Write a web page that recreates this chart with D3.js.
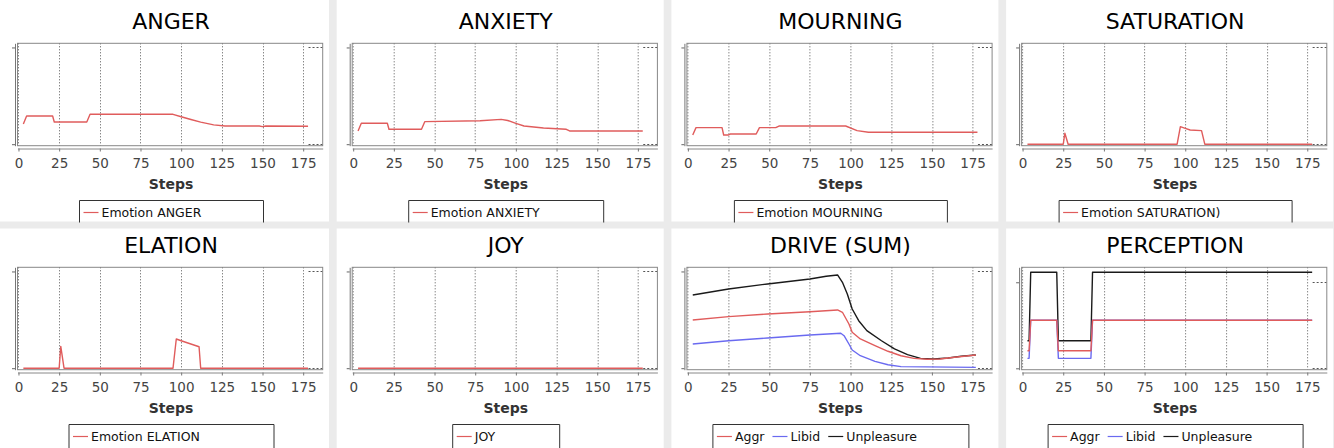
<!DOCTYPE html>
<html><head><meta charset="utf-8">
<script src="https://cdn.jsdelivr.net/npm/d3@7"></script>
<style>html,body{margin:0;padding:0;background:#ebebeb;overflow:hidden}</style>
</head><body><svg id="c" width="1334" height="448"></svg>
<script>
// ---------- DATA ----------
const stepTicks = [0, 25, 50, 75, 100, 125, 150, 175];
const yTicks = [0, 1];
const panelTitles = ["ANGER", "ANXIETY", "MOURNING", "SATURATION", "ELATION", "JOY", "DRIVE (SUM)", "PERCEPTION"];

const angerSteps  = [3, 5, 21, 22, 42, 44, 95, 100, 106, 112, 120, 127, 148, 150, 152, 178];
const angerValues = [0.209, 0.292, 0.292, 0.23, 0.23, 0.309, 0.309, 0.284, 0.255, 0.228, 0.2, 0.188, 0.188, 0.182, 0.188, 0.186];

const anxietySteps  = [3, 5, 21, 22, 42, 44, 78, 91, 95, 100, 105, 117, 131, 133, 178];
const anxietyValues = [0.137, 0.216, 0.216, 0.154, 0.154, 0.233, 0.243, 0.257, 0.245, 0.216, 0.188, 0.168, 0.154, 0.137, 0.137];

const mourningSteps  = [3, 5, 21, 22, 25, 26, 42, 44, 54, 56, 97, 104, 111, 178];
const mourningValues = [0.095, 0.171, 0.171, 0.095, 0.095, 0.105, 0.105, 0.171, 0.171, 0.188, 0.188, 0.14, 0.123, 0.123];

const saturationSteps  = [3, 25, 26, 28, 95, 97, 100, 103, 110, 112, 178];
const saturationValues = [0, 0, 0.113, 0, 0, 0.181, 0.164, 0.147, 0.14, 0, 0];

const elationSteps  = [3, 25, 26, 28, 95, 97, 100, 111, 112, 178];
const elationValues = [0, 0, 0.226, 0, 0, 0.302, 0.284, 0.222, 0, 0];

const joySteps  = [3, 178];
const joyValues = [0, 0];

const driveAggrSteps  = [3, 25, 49, 75, 92, 95, 99, 101, 106, 115, 123, 131, 139, 147, 155, 164, 177];
const driveAggrValues = [0.498, 0.533, 0.560, 0.584, 0.602, 0.578, 0.457, 0.371, 0.302, 0.233, 0.175, 0.129, 0.102, 0.092, 0.095, 0.113, 0.137];
const driveLibidSteps  = [3, 25, 49, 75, 94, 96, 99, 101, 106, 115, 123, 131, 177];
const driveLibidValues = [0.250, 0.284, 0.312, 0.343, 0.361, 0.336, 0.250, 0.188, 0.129, 0.071, 0.036, 0.016, 0.009];
const driveUnplSteps  = [3, 25, 49, 75, 85, 92, 95, 98, 101, 105, 110, 119, 127, 135, 143, 151, 160, 168, 177];
const driveUnplValues = [0.757, 0.819, 0.871, 0.922, 0.950, 0.964, 0.888, 0.767, 0.612, 0.491, 0.388, 0.284, 0.199, 0.140, 0.102, 0.095, 0.105, 0.123, 0.137];

const percSteps = [3, 4, 5, 21, 22, 42, 43, 178];
const percAggrValues  = [0.205, 0.205, 0.558, 0.558, 0.205, 0.205, 0.558, 0.558];
const percLibidValues = [0.116, 0.116, 0.558, 0.558, 0.116, 0.116, 0.558, 0.558];
const percUnplValues  = [0.321, 0.321, 1.116, 1.116, 0.321, 0.321, 1.116, 1.116];

// ---------- CONFIG ----------
const RED = "#e05c5c", BLUE = "#6a6af0", BLACK = "#1a1a1a";
const zip = (s, v) => s.map((d, i) => ({x: d, y: v[i]}));
const stdY = [-0.0155, 1.043];
const panels = [
  {series: [{name: "Emotion ANGER", color: RED, pts: zip(angerSteps, angerValues)}], yDomain: stdY, legendW: 184},
  {series: [{name: "Emotion ANXIETY", color: RED, pts: zip(anxietySteps, anxietyValues)}], yDomain: stdY, legendW: 195},
  {series: [{name: "Emotion MOURNING", color: RED, pts: zip(mourningSteps, mourningValues)}], yDomain: stdY, legendW: 213},
  {series: [{name: "Emotion SATURATION)", color: RED, pts: zip(saturationSteps, saturationValues)}], yDomain: stdY, legendW: 233},
  {series: [{name: "Emotion ELATION", color: RED, pts: zip(elationSteps, elationValues)}], yDomain: stdY, legendW: 205},
  {series: [{name: "JOY", color: RED, pts: zip(joySteps, joyValues)}], yDomain: stdY, legendW: 107},
  {series: [
    {name: "Aggr", color: RED, pts: zip(driveAggrSteps, driveAggrValues)},
    {name: "Libid", color: BLUE, pts: zip(driveLibidSteps, driveLibidValues)},
    {name: "Unpleasure", color: BLACK, pts: zip(driveUnplSteps, driveUnplValues)}], yDomain: stdY, legendW: 256},
  {series: [
    {name: "Aggr", color: RED, pts: zip(percSteps, percAggrValues)},
    {name: "Libid", color: BLUE, pts: zip(percSteps, percLibidValues)},
    {name: "Unpleasure", color: BLACK, pts: zip(percSteps, percUnplValues)}], yDomain: [-0.016, 1.174], legendW: 255}
];

// ---------- DRAW ----------
const svg = d3.select("#c");
svg.append("rect").attr("width", 1334).attr("height", 448).attr("fill", "#ebebeb");
const colW = 334.7, rowH = 224;
const FONT = "DejaVu Sans, Verdana, sans-serif";

panels.forEach((p, i) => {
  const col = i % 4, row = Math.floor(i / 4);
  const ox = col * colW, oy = row * rowH;
  const wx0 = col === 0 ? 0 : ox + 2, wx1 = Math.min(ox + 329, 1334);
  const wy0 = row === 0 ? 0 : oy + 4.5, wy1 = row === 0 ? 221.5 : 448;
  svg.append("rect").attr("x", wx0).attr("y", wy0).attr("width", wx1 - wx0).attr("height", wy1 - wy0).attr("fill", "#fff");

  const g = svg.append("g").attr("transform", `translate(${ox},${oy})`);
  const x = d3.scaleLinear().domain([-0.6, 187]).range([17.5, 322.7]);
  const y = d3.scaleLinear().domain(p.yDomain).range([145.7, 43.3]);
  const [fx0, fx1] = x.range(), [fy1, fy0] = y.range();

  // title
  g.append("text").attr("x", 171).attr("y", 28.5).attr("text-anchor", "middle")
    .attr("font-family", FONT).attr("font-size", 22).attr("fill", "#000").text(panelTitles[i]);

  // vertical dotted gridlines
  g.selectAll(".vg").data(stepTicks).enter().append("line")
    .attr("x1", d => Math.round(x(d)) + 0.5).attr("x2", d => Math.round(x(d)) + 0.5)
    .attr("y1", fy0).attr("y2", fy1)
    .attr("stroke", "#555").attr("stroke-width", 1).attr("stroke-dasharray", "1,2");

  // short horizontal dotted gridline remnants at the right
  g.selectAll(".hg").data(yTicks).enter().append("line")
    .attr("x1", x(178.3)).attr("x2", fx1)
    .attr("y1", d => Math.round(y(d)) + 0.5).attr("y2", d => Math.round(y(d)) + 0.5)
    .attr("stroke", "#555").attr("stroke-width", 1).attr("stroke-dasharray", "2,2");

  // frame
  g.append("rect").attr("x", fx0).attr("y", fy0).attr("width", fx1 - fx0).attr("height", fy1 - fy0)
    .attr("fill", "none").attr("stroke", "#888").attr("stroke-width", 1);

  // series lines (first series drawn last, on top)
  const line = d3.line().x(d => x(d.x)).y(d => y(d.y));
  p.series.slice().reverse().forEach(s => {
    g.append("path").datum(s.pts).attr("d", line).attr("fill", "none")
      .attr("stroke", s.color).attr("stroke-width", 1.4).attr("stroke-linejoin", "round");
  });

  // y axis
  const ya = g.append("g").attr("transform", "translate(15,0)")
    .call(d3.axisLeft(y).tickValues(yTicks).tickSize(3).tickSizeOuter(0).tickFormat(""));
  ya.select(".domain").attr("stroke", "#777");
  ya.selectAll(".tick line").attr("stroke", "#666");

  // x axis
  const xa = g.append("g").attr("transform", "translate(0,148.5)")
    .call(d3.axisBottom(x).tickValues(stepTicks).tickSize(3).tickSizeOuter(0).tickPadding(6.5));
  xa.select(".domain").attr("stroke", "#888");
  xa.selectAll(".tick line").attr("stroke", "#777");
  xa.selectAll(".tick text").attr("font-family", FONT).attr("font-size", 13.5).attr("fill", "#444");

  g.append("text").attr("x", 171).attr("y", 188.5).attr("text-anchor", "middle")
    .attr("font-family", FONT).attr("font-size", 14).attr("font-weight", "bold").attr("fill", "#333").text("Steps");

  // legend
  const lb = (row === 0 ? 221.5 : 224) + 1;
  const lx0 = 171 - p.legendW / 2, lx1 = 171 + p.legendW / 2;
  g.append("path").attr("d", `M${lx0 + 0.5},${lb}V200.5H${lx1 + 0.5}V${lb}`)
    .attr("fill", "none").attr("stroke", "#333").attr("stroke-width", 1);
  let cx = lx0 + 4.5;
  p.series.forEach(s => {
    g.append("line").attr("x1", cx).attr("x2", cx + 15).attr("y1", 212.5).attr("y2", 212.5)
      .attr("stroke", s.color).attr("stroke-width", 1.2);
    const t = g.append("text").attr("x", cx + 18).attr("y", 216.5).attr("font-family", FONT)
      .attr("font-size", 12.5).attr("fill", "#111").text(s.name);
    cx += 18 + t.node().getComputedTextLength() + 8;
  });
});
</script></body></html>
